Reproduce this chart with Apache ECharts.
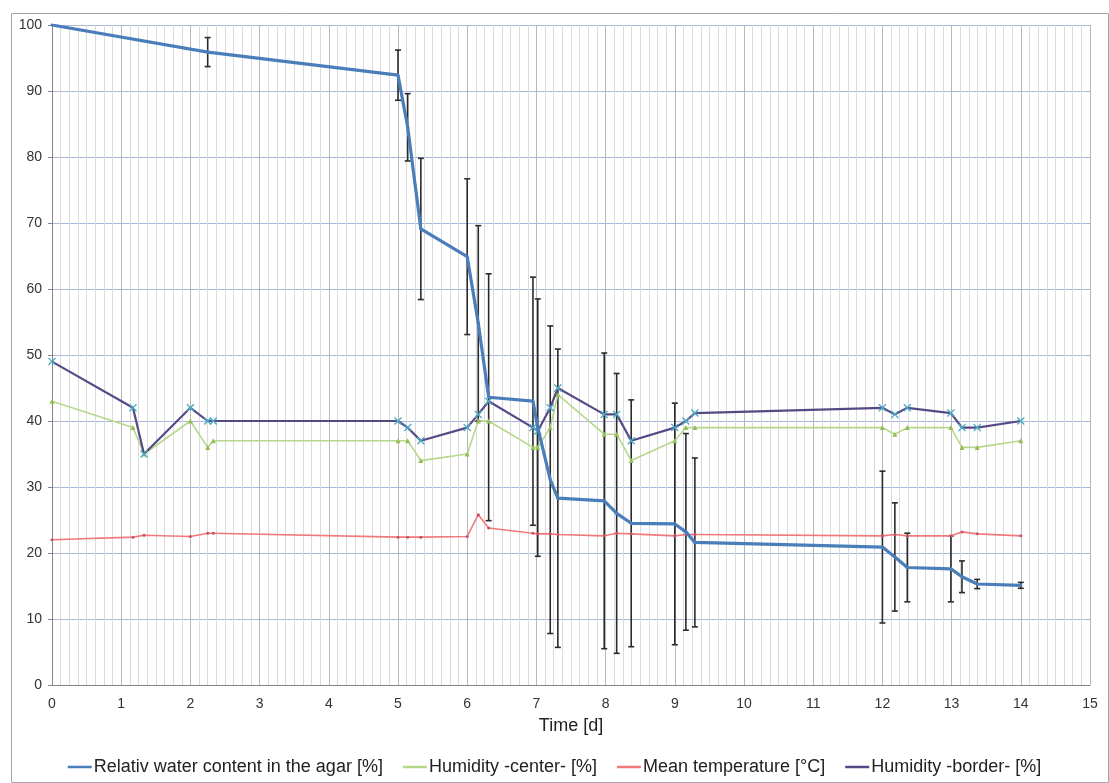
<!DOCTYPE html>
<html>
<head>
<meta charset="utf-8">
<script src="https://cdn.jsdelivr.net/npm/echarts@6/dist/echarts.min.js"></script>
<style>html,body{margin:0;padding:0;background:#fff}#c{width:1109px;height:783px}</style>
</head>
<body>
<div id="c"></div>
<script>
// ---- data ----
const blueT = [0, 2.25, 5, 5.14, 5.33, 6, 6.16, 6.31, 6.95, 7.02, 7.2, 7.31, 7.98, 8.16, 8.37, 9, 9.16, 9.29, 12, 12.18, 12.36, 12.99, 13.15, 13.37, 14];
const blueV = [100, 95.9, 92.4, 84.5, 69.1, 64.9, 54.8, 43.6, 43.0, 39.0, 31.1, 28.3, 27.9, 26.0, 24.5, 24.4, 23.2, 21.6, 20.9, 19.4, 17.8, 17.6, 16.4, 15.3, 15.1];
const blueErr = [0, 2.2, 3.8, 5.1, 10.7, 11.8, 14.8, 18.7, 18.8, 19.5, 23.3, 22.6, 22.4, 21.2, 18.7, 18.3, 14.9, 12.8, 11.5, 8.2, 5.2, 5.0, 2.4, 0.7, 0.45];

const humT = [0, 1.17, 1.33, 2, 2.25, 2.33, 5, 5.14, 5.33, 6, 6.16, 6.31, 6.95, 7.02, 7.2, 7.31, 7.98, 8.16, 8.37, 9, 9.16, 9.29, 12, 12.18, 12.36, 12.99, 13.15, 13.37, 14];
const humCenter = [43, 39, 35, 40, 36, 37, 37, 37, 34, 35, 40, 40, 36, 36, 39, 44, 38, 38, 34, 37, 39, 39, 39, 38, 39, 39, 36, 36, 37];
const humBorder = [49, 42, 35, 42, 40, 40, 40, 39, 37, 39, 41, 43, 39, 38.5, 42, 45, 41, 41, 37, 39, 40, 41.2, 42, 41, 42, 41.2, 39, 39, 40];
const meanTemp = [22, 22.4, 22.7, 22.5, 23, 23, 22.4, 22.4, 22.4, 22.5, 25.8, 23.8, 23, 22.9, 22.9, 22.8, 22.6, 23, 22.9, 22.6, 22.8, 22.8, 22.6, 22.8, 22.6, 22.6, 23.2, 22.9, 22.6];

const seriesNames = ['Relativ water content in the agar [%]', 'Humidity -center- [%]', 'Mean temperature [°C]', 'Humidity -border- [%]'];
const xTitle = 'Time [d]';

// ---- build ----
const zip = (a, b) => a.map((t, i) => [t, b[i]]);
const errData = blueT.map((t, i) => [t, blueV[i] - blueErr[i], blueV[i] + blueErr[i]]).filter((d, i) => blueErr[i] > 0);
const xMark = 'path://M0,1.2L1.2,0L5,3.8L8.8,0L10,1.2L6.2,5L10,8.8L8.8,10L5,6.2L1.2,10L0,8.8L3.8,5Z';
const FONT = 'Liberation Sans';
const lineColors = ['#4a7ebb', '#b5d88c', '#f07a7a', '#564a86'];

const chart = echarts.init(document.getElementById('c'), null, {renderer: 'canvas'});
chart.setOption({
  animation: false,
  textStyle: {fontFamily: FONT},
  graphic: [{
    type: 'rect', left: 9, top: 11, shape: {width: 1097, height: 769},
    style: {fill: 'none', stroke: '#a6a6a6', lineWidth: 1}, silent: true, z: -10
  }],
  grid: {left: 52, right: 19, top: 25, bottom: 98, containLabel: false},
  legend: {
    bottom: 2, left: 'center', itemGap: 20, itemWidth: 24, itemHeight: 2.5,
    textStyle: {fontSize: 18, color: '#222', fontFamily: FONT, padding: [0, 0, 0, -3]},
    data: seriesNames.map((n, i) => ({name: n, icon: 'rect', itemStyle: {color: lineColors[i]}}))
  },
  xAxis: {
    type: 'value', min: 0, max: 15, interval: 1,
    name: xTitle, nameLocation: 'middle', nameGap: 32,
    nameTextStyle: {fontSize: 18, color: '#222'},
    axisLine: {show: true, lineStyle: {color: '#868686'}},
    axisTick: {show: false},
    axisLabel: {fontSize: 14, color: '#333', margin: 12},
    splitLine: {show: true, lineStyle: {color: '#b7b7b7', width: 1}},
    minorTick: {show: false, splitNumber: 8},
    minorSplitLine: {show: true, lineStyle: {color: '#dadada', width: 1}}
  },
  yAxis: {
    type: 'value', min: 0, max: 100, interval: 10,
    axisLine: {show: true, lineStyle: {color: '#868686'}},
    axisTick: {show: true, length: 4, lineStyle: {color: '#868686'}},
    axisLabel: {fontSize: 14, color: '#333', margin: 10},
    splitLine: {show: true, lineStyle: {color: '#a9b7de', width: 1}}
  },
  series: [
    {
      name: 'errbars', type: 'custom', z: 1, silent: true,
      data: errData,
      encode: {x: 0, y: [1, 2]},
      renderItem: function (params, api) {
        const x = api.value(0);
        const lo = api.coord([x, api.value(1)]);
        const hi = api.coord([x, api.value(2)]);
        const cap = 3;
        const st = {stroke: '#2b2b2b', lineWidth: 1.6};
        return {type: 'group', children: [
          {type: 'line', shape: {x1: lo[0], y1: lo[1], x2: hi[0], y2: hi[1]}, style: st},
          {type: 'line', shape: {x1: lo[0] - cap, y1: lo[1], x2: lo[0] + cap, y2: lo[1]}, style: st},
          {type: 'line', shape: {x1: hi[0] - cap, y1: hi[1], x2: hi[0] + cap, y2: hi[1]}, style: st}
        ]};
      }
    },
    {
      name: seriesNames[0], type: 'line', z: 5, data: zip(blueT, blueV),
      lineStyle: {color: lineColors[0], width: 3.2},
      itemStyle: {color: lineColors[0]}, symbol: 'circle', symbolSize: 3, showSymbol: true
    },
    {
      name: seriesNames[1], type: 'line', z: 3, data: zip(humT, humCenter),
      lineStyle: {color: lineColors[1], width: 1.6},
      itemStyle: {color: '#93bd55'}, symbol: 'triangle', symbolSize: 5
    },
    {
      name: seriesNames[2], type: 'line', z: 3, data: zip(humT, meanTemp),
      lineStyle: {color: lineColors[2], width: 1.6},
      itemStyle: {color: '#c8506a'}, symbol: 'circle', symbolSize: 3
    },
    {
      name: seriesNames[3], type: 'line', z: 4, data: zip(humT, humBorder),
      lineStyle: {color: lineColors[3], width: 2.2},
      itemStyle: {color: '#4bacc6'}, symbol: xMark, symbolSize: 8
    }
  ]
});
</script>
</body>
</html>
